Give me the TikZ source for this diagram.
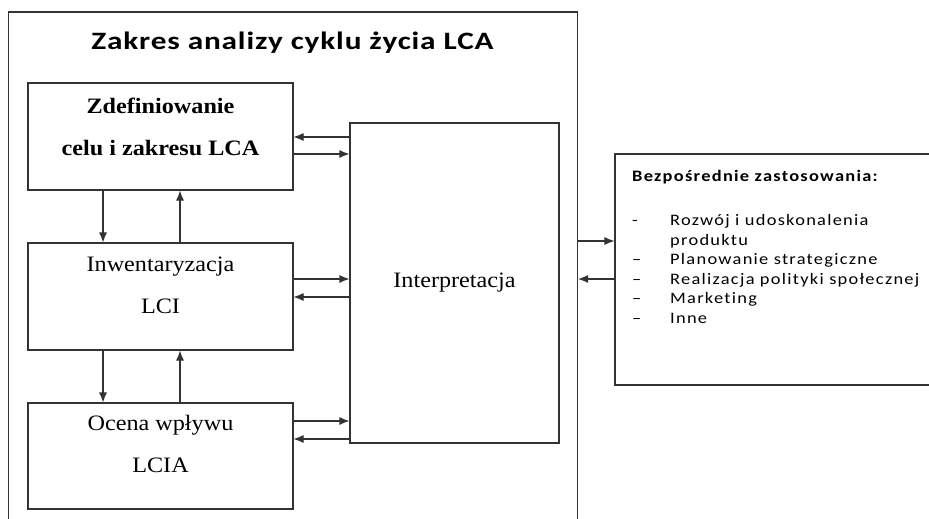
\documentclass[tikz,border=0pt]{standalone}
\usepackage{fontspec}
\usetikzlibrary{arrows.meta}
\setmainfont{Liberation Serif}[FakeStretch=1.1]
\newfontfamily\calibri{Carlito}[FakeStretch=1.15,LetterSpace=8,Ligatures=NoCommon]
\newfontfamily\calibrititle{Carlito}[FakeStretch=1.25,LetterSpace=3.4]

\tikzset{
  frame/.style={draw=black!80, line width=1.1pt, inner sep=0pt},
  stage/.style={frame, minimum width=265pt, font=\fontsize{22}{42}\selectfont},
  stagetext/.style={align=center, inner sep=0pt, font=\fontsize{22}{42}\selectfont},
  conn/.style={draw=black!80, line width=1.1pt, ->},
}

\begin{document}
\begin{tikzpicture}[x=1pt,y=-1pt,>={Latex[length=10pt,width=8pt]}]
  % Page size, anything outside is cut off
  \useasboundingbox (0,0) rectangle (929,519);
  \clip (0,0) rectangle (929,519);

  % Outer frame (runs off the bottom) and its title
  \node [frame, minimum width=569pt, minimum height=548pt] (zakres) at (293,286) {};
  \node [font={\calibrititle\bfseries\fontsize{25}{30}\selectfont}] (tytul) at (292.5,43)
        {Zakres analizy cyklu życia LCA};

  % Stages of the analysis:
  % boxes first, the text goes in its own node a bit above the middle
  \node [stage, minimum height=107pt] (cel)  at (160.5,136.5) {};
  \node [stage, minimum height=107pt] (lci)  at (160.5,296.5) {};
  \node [stage, minimum height=106pt] (lcia) at (160.5,456) {};
  \node [stagetext, font=\fontsize{22}{42}\selectfont\bfseries] (celtxt) at (160.5,127)
        {Zdefiniowanie\\celu i zakresu LCA};
  \node [stagetext] (lcitxt)  at (160.5,285) {Inwentaryzacja\\LCI};
  \node [stagetext] (lciatxt) at (160.5,444) {Ocena wpływu\\LCIA};

  % Interpretation
  \node [stage, minimum width=209pt, minimum height=320pt] (interp) at (454.5,283) {Interpretacja};

  % Arrows down and up between the stages
  \foreach \a/\b in {cel/lci, lci/lcia}{
    \draw [conn] ([xshift=-57.5pt]\a.south) -- ([xshift=-57.5pt]\b.north);
    \draw [conn] ([xshift=19.5pt]\b.north) -- ([xshift=19.5pt]\a.south);
  }

  % Arrows to and from the interpretation
  \foreach \s/\yin/\yout in {cel/154/137, lci/279/297, lcia/421/439}{
    \draw [conn] (\s.east |- 0,\yin) -- (interp.west |- 0,\yin);
    \draw [conn] (interp.west |- 0,\yout) -- (\s.east |- 0,\yout);
  }

  % Direct applications (runs off the right edge)
  \node [frame, minimum width=345pt, minimum height=231pt] (zastos) at (787.5,269.5) {};
  \node [anchor=north west, inner sep=0pt, font={\calibri\fontsize{16}{19.6}\selectfont}] (lista) at (632,168)
        {\begin{tabular}{@{}p{38pt}@{}l@{}}
           \multicolumn{2}{@{}l@{}}{\bfseries Bezpośrednie zastosowania:}\\[24pt]
           - & Rozwój i udoskonalenia\\
             & produktu\\
           – & Planowanie strategiczne\\
           – & Realizacja polityki społecznej\\
           – & Marketing\\
           – & Inne
         \end{tabular}};
  \draw [conn] (zakres.east |- 0,241) -- (zastos.west |- 0,241);
  \draw [conn] (zastos.west |- 0,279) -- (zakres.east |- 0,279);
\end{tikzpicture}
\end{document}
